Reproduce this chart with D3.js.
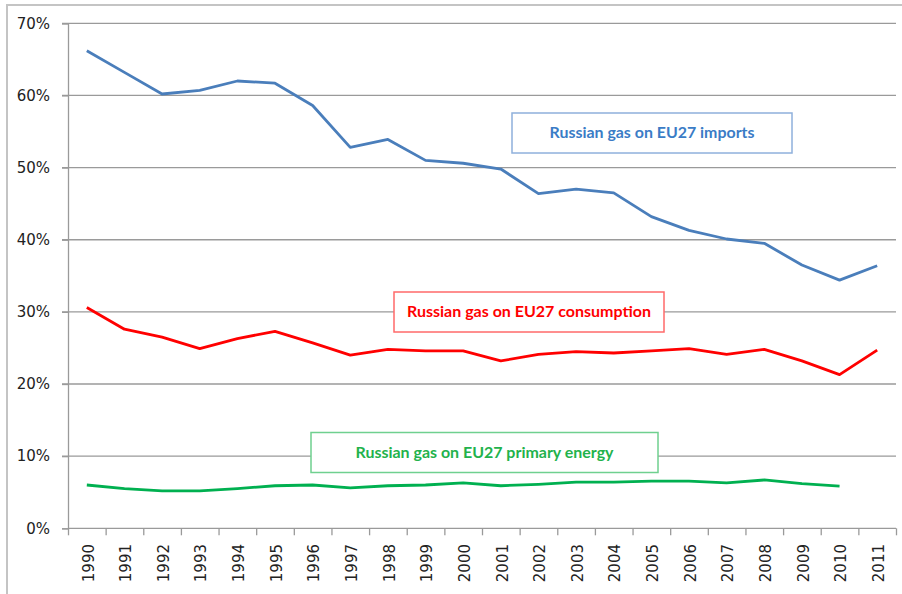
<!DOCTYPE html>
<html><head><meta charset="utf-8">
<script src="https://cdn.jsdelivr.net/npm/d3@7"></script>
<style>body{margin:0;background:#fff}svg{display:block}</style>
</head><body>
<svg id="c" width="902" height="594"></svg>
<script>
const years = ["1990","1991","1992","1993","1994","1995","1996","1997","1998","1999","2000","2001","2002","2003","2004","2005","2006","2007","2008","2009","2010","2011"];
const importsShare = [66.2,63.2,60.2,60.7,62.0,61.7,58.6,52.8,53.9,51.0,50.6,49.8,46.4,47.0,46.5,43.2,41.3,40.1,39.5,36.5,34.4,36.4];
const consumptionShare = [30.6,27.6,26.5,24.9,26.3,27.3,25.7,24.0,24.8,24.6,24.6,23.2,24.1,24.5,24.3,24.6,24.9,24.1,24.8,23.2,21.3,24.7];
const primaryShare = [6.0,5.5,5.2,5.2,5.5,5.9,6.0,5.6,5.9,6.0,6.3,5.9,6.1,6.4,6.4,6.55,6.55,6.3,6.7,6.2,5.85,null];
const yTicks = [0,10,20,30,40,50,60,70];
const seriesLabels = ["Russian gas on EU27 imports","Russian gas on EU27 consumption","Russian gas on EU27 primary energy"];

const svg = d3.select("#c");
const L = 68, R = 896, T = 23.3, B = 528.3;
const x = d3.scaleBand().domain(years).range([L, R]).padding(0);
const xi = d3.scaleLinear().domain([0, years.length]).range([L, R]);
const y = d3.scaleLinear().domain([0, 70]).range([B, T]);
const cx = d => x(d) + x.bandwidth() / 2;

// outer border (only top/left visible)
svg.append("rect").attr("x", 7).attr("y", 5).attr("width", 920).attr("height", 620)
  .attr("fill", "none").attr("stroke", "#c4c4c4").attr("stroke-width", 2);

// gridlines
svg.append("g").selectAll("line").data(yTicks.filter(v => v > 0)).join("line")
  .attr("x1", L - 6).attr("x2", R).attr("y1", d => y(d)).attr("y2", d => y(d))
  .attr("stroke", "#9a9a9a").attr("stroke-width", 1.3);

// y axis
const gy = svg.append("g").attr("transform", `translate(${L},0)`)
  .call(d3.axisLeft(y).tickValues(yTicks).tickSize(6).tickFormat(d => d + "%"));
gy.select(".domain").attr("stroke", "#9a9a9a").attr("stroke-width", 1.3);
gy.selectAll(".tick line").attr("stroke", "#9a9a9a").attr("stroke-width", 1.3);
gy.selectAll(".tick text").attr("x", -18).attr("font-family", "DejaVu Sans").attr("font-size", 15).attr("fill", "#222");

// x axis ticks at band boundaries
const gx = svg.append("g").attr("transform", `translate(0,${B})`)
  .call(d3.axisBottom(xi).tickValues(d3.range(years.length + 1)).tickSize(7).tickFormat(""));
gx.select(".domain").attr("stroke", "#9a9a9a").attr("stroke-width", 1.3).attr("d", `M${L},0H${R}`);
gx.selectAll(".tick line").attr("stroke", "#9a9a9a").attr("stroke-width", 1.3);

// year labels
svg.append("g").selectAll("text").data(years).join("text")
  .attr("transform", d => `translate(${cx(d) + 1.5},544) rotate(-90)`)
  .attr("text-anchor", "end").attr("dy", "0.35em")
  .attr("font-family", "DejaVu Sans").attr("font-size", 15).attr("fill", "#222")
  .text(d => d);

// lines
const line = d3.line().defined(d => d.v != null).x(d => cx(d.k)).y(d => y(d.v));
const series = [
  {vals: importsShare, color: "#4a7ebb"},
  {vals: consumptionShare, color: "#ff0000"},
  {vals: primaryShare, color: "#00b050"}
];
series.forEach(s => {
  svg.append("path").datum(years.map((k, i) => ({k, v: s.vals[i]})))
    .attr("d", line).attr("fill", "none").attr("stroke", s.color)
    .attr("stroke-width", 2.8).attr("stroke-linejoin", "round");
});

// label boxes
const boxes = [
  {t: seriesLabels[0], x: 512, y: 113, w: 280, h: 40, stroke: "#8fb0dc", fill: "#3a7cc6", tw: 205},
  {t: seriesLabels[1], x: 394, y: 292, w: 270, h: 40, stroke: "#ff6a6a", fill: "#ff0000", tw: 244},
  {t: seriesLabels[2], x: 311, y: 432.5, w: 347, h: 40, stroke: "#6fd08f", fill: "#22b24c", tw: 258}
];
boxes.forEach(b => {
  svg.append("rect").attr("x", b.x).attr("y", b.y).attr("width", b.w).attr("height", b.h)
    .attr("fill", "#fff").attr("stroke", b.stroke).attr("stroke-width", 1.5);
  svg.append("text").attr("x", b.x + b.w / 2).attr("y", b.y + b.h / 2).attr("dy", "0.35em")
    .attr("text-anchor", "middle").attr("font-family", "Lato").attr("font-weight", "bold")
    .attr("font-size", 15).attr("fill", b.fill)
    .attr("textLength", b.tw).attr("lengthAdjust", "spacingAndGlyphs")
    .text(b.t);
});
</script>
</body></html>
